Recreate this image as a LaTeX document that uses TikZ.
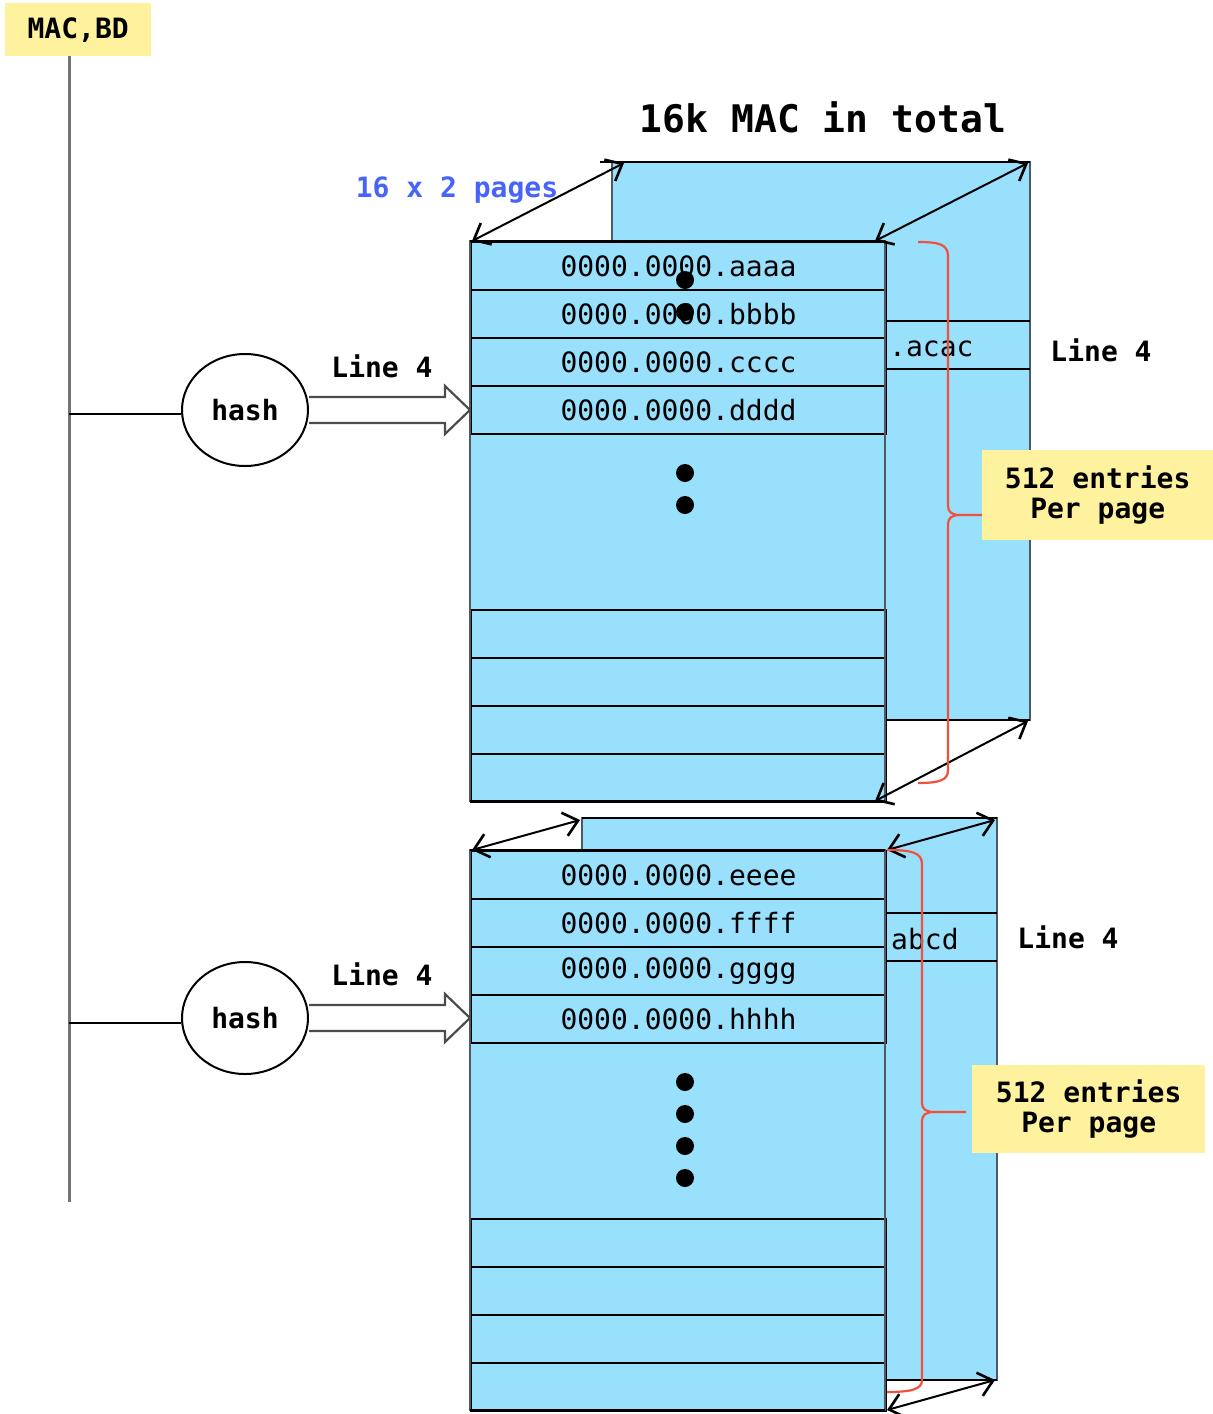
\documentclass[tikz,border=0pt]{standalone}
\usepackage{fontspec}
\setmainfont{DejaVu Sans Mono}
\usetikzlibrary{arrows.meta,shapes.geometric,calc}
\definecolor{pagebg}{RGB}{153,224,252}
\definecolor{noteyel}{RGB}{255,242,158}
\definecolor{bracered}{RGB}{240,80,60}
\definecolor{pageblue}{RGB}{70,100,250}
\definecolor{edgegrey}{RGB}{75,90,100}
\begin{document}
\begin{tikzpicture}[x=1pt,y=-1pt,
  rowbox/.style={draw=black, line width=2pt, fill=pagebg, minimum width=415pt, minimum height=48pt, inner sep=0pt, anchor=north west, font=\fontsize{28}{30}\selectfont},
  pagebox/.style={draw=edgegrey, line width=2.6pt, fill=pagebg},
  rowline/.style={draw=black, line width=2pt},
  dblarrow/.style={draw=black, line width=2pt, {Straight Barb[length=14pt,width=24pt,line width=2.6pt]}-{Straight Barb[length=14pt,width=24pt,line width=2.6pt]}},
  note/.style={fill=noteyel, inner sep=0pt, align=center, font=\fontsize{28}{30}\selectfont\bfseries},
  lbl/.style={inner sep=0pt, font=\fontsize{28}{30}\selectfont\bfseries},
  hashnode/.style={ellipse, draw=black, line width=2pt, fill=white, minimum width=126pt, minimum height=112pt, inner sep=0pt, font=\fontsize{28}{30}\selectfont\bfseries},
  hollow/.style={draw=black!70, line width=2.2pt, fill=white},
  bracepath/.style={draw=bracered, line width=2.2pt},
  dotmark/.style={circle, fill=black, minimum size=18pt, inner sep=0pt}
]
\useasboundingbox (0,0) rectangle (1213,1414);
\fill[white] (0,0) rectangle (1213,1414);

% ---------- left trunk ----------
\node[note, minimum width=146pt, minimum height=53pt, anchor=north west] (macbd) at (5,3) {MAC,BD};
\coordinate (trunkend) at (69,1202);
\draw[draw=black!55, line width=3pt] (69,56) -- (trunkend);
\coordinate (j1) at (69,414);
\coordinate (j2) at (69,1023);

% ---------- title ----------
\node[inner sep=0pt, font=\fontsize{38}{40}\selectfont\bfseries] (title) at (823,117) {16k MAC in total};
\node[inner sep=0pt, font=\fontsize{28}{30}\selectfont\bfseries, text=pageblue] (pages) at (457,190) {16 x 2 pages};

% ================= TOP BLOCK =================
\coordinate (tb1) at (612,162);
\coordinate (tb2) at (1030,162);
\coordinate (tb3) at (1030,720);
\draw[pagebox] (612,162) rectangle (1030,720);
\draw[rowline] (600,162) -- (tb2);
\draw[rowline] (885,720) -- (tb3);
\draw[rowline] (885,321) -- (1030,321);
\draw[rowline] (885,369) -- (1030,369);
\node[inner sep=0pt, anchor=west, font=\fontsize{28}{30}\selectfont] (acac) at (889,349) {.acac};
\node[lbl] (l4r) at (1101,350) {Line 4};

\draw[pagebox] (470,241) rectangle (885,801);
\node[rowbox] (r1) at (470,241) {0000.0000.aaaa};
\node[rowbox] (r2) at (470,289) {0000.0000.bbbb};
\node[rowbox] (r3) at (470,337) {0000.0000.cccc};
\node[rowbox] (r4) at (470,385) {0000.0000.dddd};
\node[rowbox] (r5) at (470,609) {};
\node[rowbox] (r6) at (470,657) {};
\node[rowbox] (r7) at (470,705) {};
\node[rowbox] (r8) at (470,753) {};
\draw[draw=edgegrey, line width=2.8pt] (470,241) rectangle (885,801);
\draw[rowline] (470,241) -- (885,241);
\draw[rowline] (470,801) -- (885,801);

\node[dotmark] (d1) at (685,280) {};
\node[dotmark] (d2) at (685,312) {};
\node[dotmark] (d3) at (685,473) {};
\node[dotmark] (d4) at (685,505) {};

\coordinate (tf1) at (472,241);
\coordinate (tf2) at (875,241);
\coordinate (tf3) at (875,801);
\coordinate (tb1a) at (624,163);
\coordinate (tb2a) at (1028,163);
\coordinate (tb3a) at (1028,721);
\draw[dblarrow] (tf1) -- (tb1a);
\draw[dblarrow] (tf2) -- (tb2a);
\draw[dblarrow] (tf3) -- (tb3a);

\draw[bracepath] (918,242) .. controls (938,242) and (948,244) .. (948,256) -- (948,506)
  .. controls (948,512) and (952,515) .. (960,515) -- (983,515);
\draw[bracepath] (960,515) .. controls (952,515) and (948,518) .. (948,524) -- (948,770)
  .. controls (948,780) and (940,783) .. (918,783);
\node[note, minimum width=231pt, minimum height=90pt, anchor=north west] (n1) at (982,450) {512 entries\\Per page};

\node[hashnode] (h1) at (245,410) {hash};
\draw[line width=2pt] (j1) -- (j1 -| h1.west);
\coordinate (tip1) at (470,410);
\draw[hollow] ($(h1.east)+(0,-13)$) -- (445,397) -- (445,386) -- (tip1) -- (445,434) -- (445,423) -- ($(h1.east)+(0,13)$);
\node[lbl] (l4a) at (382,366) {Line 4};

% ================= BOTTOM BLOCK =================
\coordinate (bb1) at (582,818);
\coordinate (bb2) at (997,818);
\coordinate (bb3) at (997,1380);
\draw[pagebox] (582,818) rectangle (997,1380);
\draw[rowline] (582,818) -- (bb2);
\draw[rowline] (885,1380) -- (bb3);
\draw[rowline] (885,913) -- (997,913);
\draw[rowline] (885,961) -- (997,961);
\node[inner sep=0pt, anchor=west, font=\fontsize{28}{30}\selectfont] (abcd) at (891,939) {abcd};
\node[lbl] (l4r2) at (1068,937) {Line 4};

\draw[pagebox] (470,850) rectangle (885,1410);
\node[rowbox] (s1) at (470,850) {0000.0000.eeee};
\node[rowbox] (s2) at (470,898) {0000.0000.ffff};
\node[rowbox] (s3) at (470,946) {0000.0000.gggg};
\node[rowbox] (s4) at (470,994) {0000.0000.hhhh};
\node[rowbox] (s5) at (470,1218) {};
\node[rowbox] (s6) at (470,1266) {};
\node[rowbox] (s7) at (470,1314) {};
\node[rowbox] (s8) at (470,1362) {};
\draw[draw=edgegrey, line width=2.8pt] (470,850) rectangle (885,1410);
\draw[rowline] (470,850) -- (885,850);
\draw[rowline] (470,1410) -- (885,1410);

\node[dotmark] (e1) at (685,1082) {};
\node[dotmark] (e2) at (685,1114) {};
\node[dotmark] (e3) at (685,1146) {};
\node[dotmark] (e4) at (685,1178) {};

\coordinate (bf1) at (472,850);
\coordinate (bf2) at (887,850);
\coordinate (bf3) at (887,1410);
\coordinate (bb1a) at (580,820);
\coordinate (bb2a) at (995,820);
\coordinate (bb3a) at (995,1380);
\draw[dblarrow] (bf1) -- (bb1a);
\draw[dblarrow] (bf2) -- (bb2a);
\draw[dblarrow] (bf3) -- (bb3a);

\draw[bracepath] (887,850) .. controls (910,850) and (922,852) .. (922,864) -- (922,1103)
  .. controls (922,1109) and (926,1112) .. (934,1112) -- (966,1112);
\draw[bracepath] (934,1112) .. controls (926,1112) and (922,1115) .. (922,1121) -- (922,1380)
  .. controls (922,1389) and (912,1392) .. (887,1392);
\node[note, minimum width=233pt, minimum height=88pt, anchor=north west] (n2) at (972,1065) {512 entries\\Per page};

\node[hashnode] (h2) at (245,1018) {hash};
\draw[line width=2pt] (j2) -- (j2 -| h2.west);
\coordinate (tip2) at (470,1018);
\draw[hollow] ($(h2.east)+(0,-13)$) -- (445,1005) -- (445,994) -- (tip2) -- (445,1042) -- (445,1031) -- ($(h2.east)+(0,13)$);
\node[lbl] (l4b) at (382,974) {Line 4};
\end{tikzpicture}
\end{document}
